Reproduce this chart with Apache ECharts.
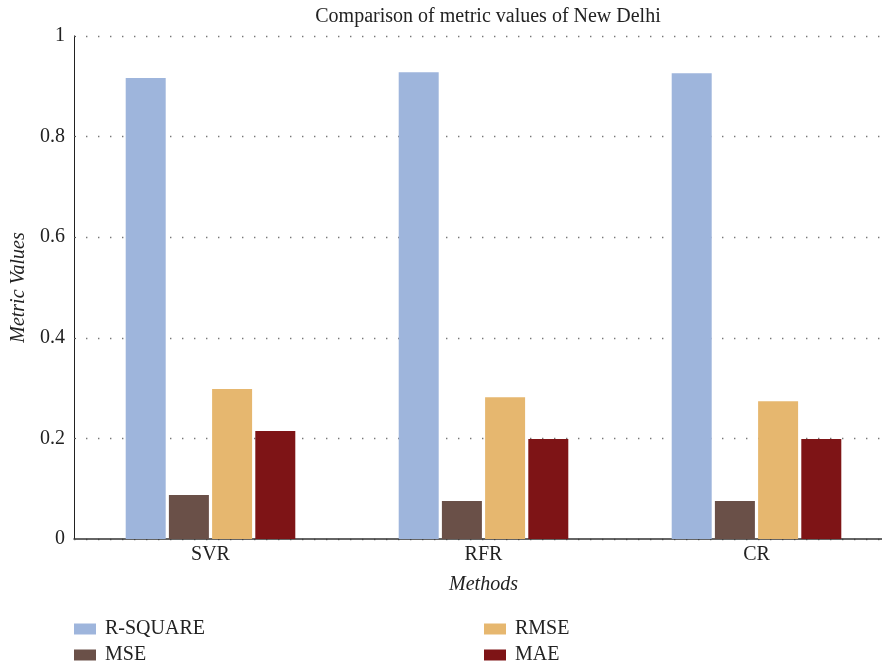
<!DOCTYPE html>
<html><head><meta charset="utf-8">
<script src="https://cdn.jsdelivr.net/npm/echarts@6/dist/echarts.min.js"></script>
<style>html,body{margin:0;padding:0;background:#fff}#c{width:882px;height:665px}</style>
</head><body><div id="c"></div>
<script>
const categories = ['SVR', 'RFR', 'CR'];
const rSquare = [0.9165, 0.928, 0.926];
const mse = [0.0875, 0.0755, 0.0755];
const rmse = [0.298, 0.282, 0.274];
const mae = [0.2147, 0.199, 0.199];
const seriesNames = ['R-SQUARE', 'MSE', 'RMSE', 'MAE'];
const colors = ['#9EB5DC', '#6A5048', '#E6B76F', '#7E1416'];
const FONT = 'Liberation Serif';

const chart = echarts.init(document.getElementById('c'));
const values = [rSquare, mse, rmse, mae];
const legendText = { fontFamily: FONT, fontSize: 20, color: '#222', padding: [0, 0, 0, 4] };
chart.setOption({
  animation: false,
  textStyle: { fontFamily: FONT, color: '#222' },
  title: {
    text: 'Comparison of metric values of New Delhi',
    left: 483, top: 2, textAlign: 'center',
    textStyle: { fontFamily: FONT, fontSize: 20, fontWeight: 'normal', color: '#222' }
  },
  grid: { left: 74, right: -11, top: 36, bottom: 126, containLabel: false, outerBoundsMode: 'none' },
  legend: [
    { data: ['R-SQUARE', 'MSE'], orient: 'vertical', left: 74, top: 619, padding: 0, height: 60,
      itemWidth: 22, itemHeight: 11, itemGap: 6, textStyle: legendText, icon: 'rect' },
    { data: ['RMSE', 'MAE'], orient: 'vertical', left: 484, top: 619, padding: 0, height: 60,
      itemWidth: 22, itemHeight: 11, itemGap: 6, textStyle: legendText, icon: 'rect' }
  ],
  xAxis: {
    type: 'category', data: categories,
    name: 'Methods', nameLocation: 'middle', nameGap: 36,
    nameTextStyle: { fontFamily: FONT, fontStyle: 'italic', fontSize: 20, color: '#222' },
    axisLine: { lineStyle: { color: '#333', width: 1.5 } },
    axisTick: { show: false },
    axisLabel: { fontFamily: FONT, fontSize: 20, color: '#222', margin: 6 }
  },
  yAxis: {
    type: 'value', min: 0, max: 1, interval: 0.2,
    name: 'Metric Values', nameLocation: 'middle', nameGap: 45,
    nameTextStyle: { fontFamily: FONT, fontStyle: 'italic', fontSize: 20, color: '#222' },
    axisLine: { show: true, lineStyle: { color: '#222', width: 1 } },
    axisTick: { show: true, inside: true, length: 2, lineStyle: { color: '#555' } },
    axisLabel: { fontFamily: FONT, fontSize: 20, color: '#222', margin: 9,
      formatter: v => (v === 0 ? '0' : v === 1 ? '1' : String(+v.toFixed(1))) },
    splitLine: { show: true, lineStyle: { color: '#777', width: 1.4, type: [1.4, 10.6] } }
  },
  series: seriesNames.map((n, i) => ({
    name: n, type: 'bar', data: values[i], barWidth: 40, barGap: '8%',
    itemStyle: { color: colors[i] }
  }))
});
</script></body></html>
